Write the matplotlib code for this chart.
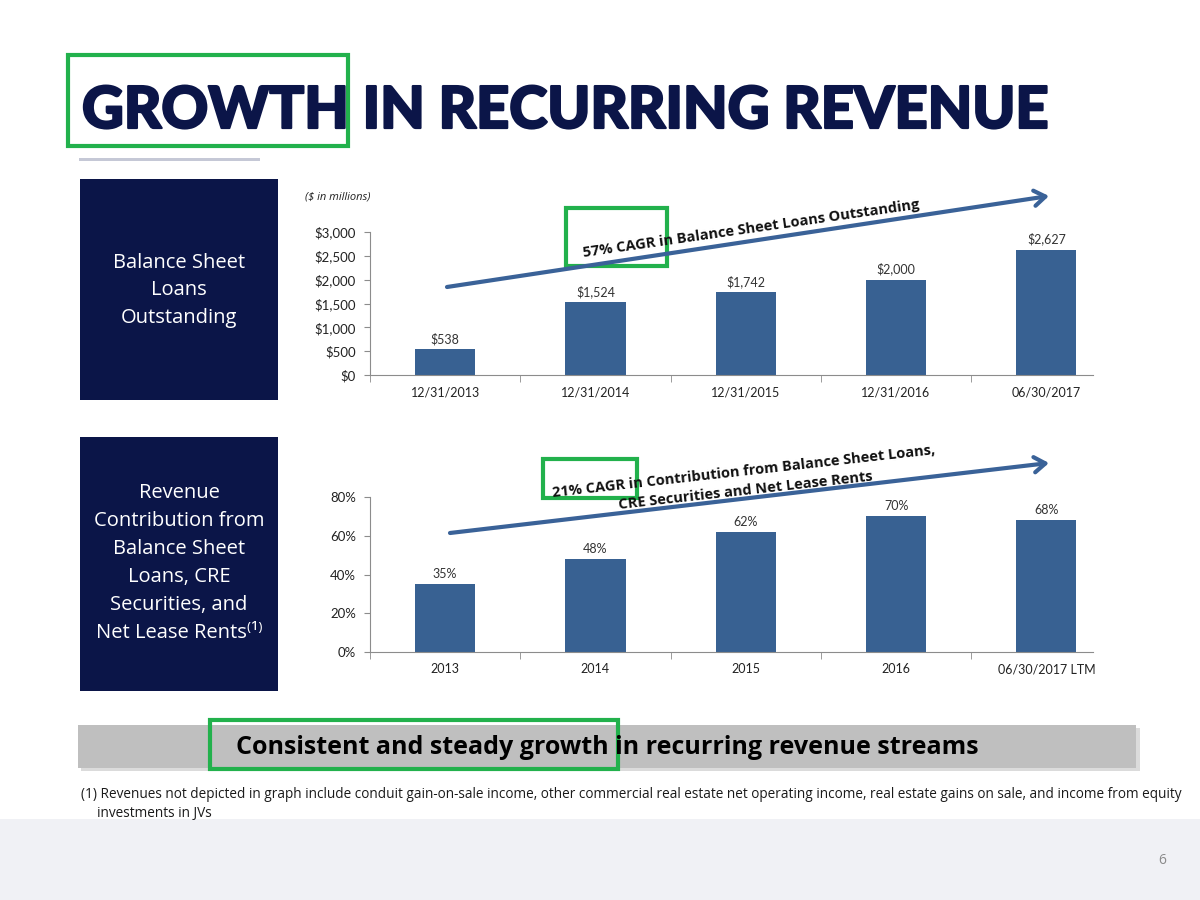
import matplotlib.pyplot as plt
import matplotlib.patheffects as pe
from matplotlib.patches import Rectangle

# datos
loan_dates = ["12/31/2013", "12/31/2014", "12/31/2015", "12/31/2016", "06/30/2017"]
loan_values = [538, 1524, 1742, 2000, 2627]
loan_labels = ["$538", "$1,524", "$1,742", "$2,000", "$2,627"]
loan_yticks = [0, 500, 1000, 1500, 2000, 2500, 3000]
loan_ytick_labels = ["$0", "$500", "$1,000", "$1,500", "$2,000", "$2,500", "$3,000"]

rev_periods = ["2013", "2014", "2015", "2016", "06/30/2017 LTM"]
rev_share = [35, 48, 62, 70, 68]
rev_labels = ["35%", "48%", "62%", "70%", "68%"]
rev_yticks = [0, 20, 40, 60, 80]
rev_ytick_labels = ["0%", "20%", "40%", "60%", "80%"]

navy = "#0b1548"
bar_blue = "#386192"
arrow_blue = "#3a6298"
green = "#22b14c"
sans = ["Open Sans", "DejaVu Sans"]

plt.rcParams["font.family"] = ["Lato", "DejaVu Sans"]

fig = plt.figure(figsize=(12, 9), dpi=100)
fig.patch.set_facecolor("white")


def px_axes(left, top, right, bottom):
    # ejes colocados en pixeles de la figura (origen arriba a la izquierda)
    return fig.add_axes([left / 1200, 1 - bottom / 900, (right - left) / 1200, (bottom - top) / 900])


def bar_panel(ax, cats, values, texts, yticks, ytick_labels, ymax):
    x = list(range(len(values)))
    ax.bar(x, values, width=0.4, color=bar_blue, zorder=2)
    for xi, v, t in zip(x, values, texts):
        ax.annotate(t, (xi, v), xytext=(0, 3), textcoords="offset points",
                    ha="center", va="bottom", fontsize=9, color="#333333")
    ax.set_xlim(-0.5, 4.31)
    ax.set_ylim(0, ymax)
    ax.set_xticks(x)
    ax.set_xticklabels(cats)
    ax.set_xticks([i - 0.5 for i in x], minor=True)
    ax.tick_params(axis="x", which="major", length=0, pad=8, labelsize=9, labelcolor="#222222")
    ax.tick_params(axis="x", which="minor", length=5, color="#8c8c8c")
    ax.set_yticks(yticks)
    ax.set_yticklabels(ytick_labels)
    ax.tick_params(axis="y", length=4, color="#8c8c8c", pad=6, labelsize=9.5, labelcolor="#222222")
    for s in ["top", "right"]:
        ax.spines[s].set_visible(False)
    for s in ["left", "bottom"]:
        ax.spines[s].set_color("#8c8c8c")
    ax.patch.set_alpha(0)


ax1 = px_axes(370, 232, 1093, 375)
bar_panel(ax1, loan_dates, loan_values, loan_labels, loan_yticks, loan_ytick_labels, 3000)

ax2 = px_axes(370, 497, 1093, 652)
bar_panel(ax2, rev_periods, rev_share, rev_labels, rev_yticks, rev_ytick_labels, 80)

# capa de la diapositiva: cajas, titulo, flechas, notas
deco = px_axes(0, 0, 1200, 900)
deco.set_xlim(0, 1200)
deco.set_ylim(900, 0)
deco.axis("off")
deco.set_zorder(10)
deco.patch.set_alpha(0)

deco.add_patch(Rectangle((0, 819), 1200, 81, color="#f0f1f5", lw=0))
deco.text(1162, 860, "6", fontsize=10, color="#8a8a8a", ha="center", va="center", family=sans)

deco.text(82, 128, "GROWTH IN RECURRING REVENUE", fontsize=41.6, fontweight="black",
          color=navy, ha="left", va="baseline",
          path_effects=[pe.withStroke(linewidth=1.6, foreground=navy)])
deco.add_patch(Rectangle((79, 158), 181, 3, color="#c5c8d6", lw=0))

deco.add_patch(Rectangle((80, 179), 198, 221, color=navy, lw=0))
deco.text(179, 290, "Balance Sheet\nLoans\nOutstanding", color="white", fontsize=14.5,
          ha="center", va="center", linespacing=1.5, family=sans)
deco.add_patch(Rectangle((80, 437), 198, 254, color=navy, lw=0))
deco.text(179, 563, "Revenue\nContribution from\nBalance Sheet\nLoans, CRE\nSecurities, and\nNet Lease Rents⁽¹⁾",
          color="white", fontsize=14.5, ha="center", va="center", linespacing=1.52, family=sans)

deco.text(305, 197, "($ in millions)", fontsize=8, fontstyle="italic", color="#222222",
          ha="left", va="center", family=sans)

# flechas de CAGR
arrow_style = dict(arrowstyle="->,head_length=0.8,head_width=0.55", lw=3, color=arrow_blue,
                   shrinkA=0, shrinkB=0)
deco.annotate("", xy=(1049, 196), xytext=(447, 287), arrowprops=arrow_style)
deco.text(751, 229, "57% CAGR in Balance Sheet Loans Outstanding", fontsize=10.5,
          fontweight="bold", color="#111111", ha="center", va="center", rotation=8.2,
          rotation_mode="anchor", family=sans)
deco.annotate("", xy=(1049, 463), xytext=(450, 533), arrowprops=arrow_style)
deco.text(745, 481, "21% CAGR in Contribution from Balance Sheet Loans,\nCRE Securities and Net Lease Rents",
          fontsize=10.5, fontweight="bold", color="#111111", ha="center", va="center",
          multialignment="center", rotation=6.4, rotation_mode="anchor", linespacing=1.45,
          family=sans)

# banda inferior con sombra
deco.add_patch(Rectangle((81, 728), 1059, 43, color="#9a9a9a", lw=0, alpha=0.35))
deco.add_patch(Rectangle((78, 725), 1058, 43, color="#bfbfbf", lw=0))
deco.text(607, 747, "Consistent and steady growth in recurring revenue streams", fontsize=18,
          fontweight="bold", color="black", ha="center", va="center", family=sans)

deco.text(81, 795, "(1) Revenues not depicted in graph include conduit gain-on-sale income, other commercial "
          "real estate net operating income, real estate gains on sale, and income from equity",
          fontsize=9.8, color="#1a1a1a", ha="left", va="center", family=sans)
deco.text(97, 813, "investments in JVs", fontsize=9.8, color="#1a1a1a", ha="left", va="center",
          family=sans)

# recuadros verdes
for (l, t, r, b) in [(68, 55, 348, 146), (566, 208, 667, 266), (543, 459, 637, 498), (210, 720, 618, 769)]:
    deco.add_patch(Rectangle((l, t), r - l, b - t, fill=False, edgecolor=green, lw=3))

fig.savefig("out.png", dpi=100)
